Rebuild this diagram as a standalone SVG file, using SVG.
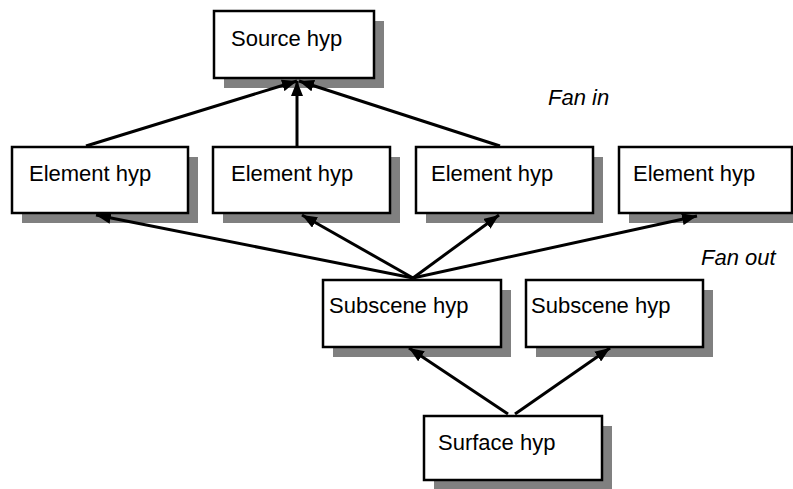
<svg xmlns="http://www.w3.org/2000/svg" width="793" height="489" viewBox="0 0 793 489">
  <defs>
    <marker id="arrow" viewBox="0 0 15 12" refX="15" refY="6" markerWidth="15" markerHeight="12" markerUnits="userSpaceOnUse" orient="auto">
      <path d="M0,0 L15,6 L0,12 Z" fill="#000"/>
    </marker>
  </defs>
  <style>
    .shadow { fill: #808080; }
    .box { fill: #fff; stroke: #000; stroke-width: 2.5; }
    .label { font-family: "Liberation Sans", Arial, sans-serif; font-size: 22px; fill: #000; }
    .note { font-family: "Liberation Sans", Arial, sans-serif; font-size: 22px; font-style: italic; fill: #000; }
    .edge { stroke: #000; stroke-width: 3; fill: none; marker-end: url(#arrow); }
  </style>
  <rect width="793" height="489" fill="#fff"/>

  <g id="source">
    <rect class="shadow" x="224" y="21" width="160" height="67"/>
    <rect class="box" x="214" y="11" width="160" height="67"/>
    <text class="label" x="231" y="46">Source hyp</text>
  </g>

  <g id="element1">
    <rect class="shadow" x="22" y="157" width="176" height="66"/>
    <rect class="box" x="12" y="147" width="176" height="66"/>
    <text class="label" x="29" y="181">Element hyp</text>
  </g>
  <g id="element2">
    <rect class="shadow" x="223" y="157" width="177" height="66"/>
    <rect class="box" x="213" y="147" width="177" height="66"/>
    <text class="label" x="231" y="181">Element hyp</text>
  </g>
  <g id="element3">
    <rect class="shadow" x="426" y="157" width="177" height="66"/>
    <rect class="box" x="416" y="147" width="177" height="66"/>
    <text class="label" x="431" y="181">Element hyp</text>
  </g>
  <g id="element4">
    <rect class="shadow" x="629" y="157" width="173" height="66"/>
    <rect class="box" x="619" y="147" width="173" height="66"/>
    <text class="label" x="633" y="181">Element hyp</text>
  </g>

  <g id="subscene1">
    <rect class="shadow" x="333" y="290" width="178" height="67"/>
    <rect class="box" x="323" y="280" width="178" height="67"/>
    <text class="label" x="329" y="313">Subscene hyp</text>
  </g>
  <g id="subscene2">
    <rect class="shadow" x="536" y="290" width="177" height="67"/>
    <rect class="box" x="526" y="280" width="177" height="67"/>
    <text class="label" x="531" y="313">Subscene hyp</text>
  </g>

  <g id="surface">
    <rect class="shadow" x="434" y="426" width="178" height="64"/>
    <rect class="box" x="424" y="416" width="178" height="64"/>
    <text class="label" x="438" y="450">Surface hyp</text>
  </g>

  <g id="connectors">
    <!-- fan in: element hypotheses to source -->
    <line class="edge" x1="86" y1="146" x2="297" y2="81"/>
    <line class="edge" x1="297" y1="146" x2="297" y2="81"/>
    <line class="edge" x1="500" y1="146" x2="299" y2="81"/>
    <!-- fan out: subscene to element hypotheses -->
    <line class="edge" x1="413" y1="278" x2="96" y2="215"/>
    <line class="edge" x1="413" y1="278" x2="302" y2="215"/>
    <line class="edge" x1="413" y1="278" x2="499" y2="215"/>
    <line class="edge" x1="413" y1="278" x2="697" y2="216"/>
    <!-- surface to subscenes -->
    <line class="edge" x1="508" y1="414" x2="409" y2="348"/>
    <line class="edge" x1="515" y1="414" x2="610" y2="348"/>
  </g>

  <text class="note" x="548" y="105">Fan in</text>
  <text class="note" x="701" y="265">Fan out</text>
</svg>
